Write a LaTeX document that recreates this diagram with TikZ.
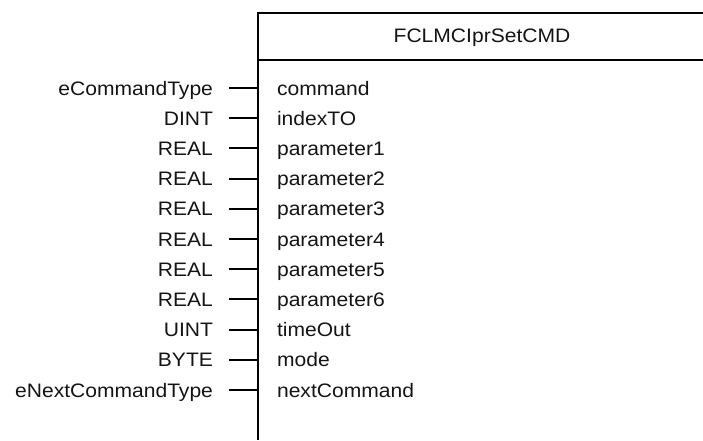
\documentclass[tikz,border=0pt]{standalone}
\usepackage{fontspec}
\setmainfont{Liberation Sans}[FakeStretch=1.08]
\begin{document}
\begin{tikzpicture}[x=1pt, y=-1pt, line width=2.1pt,
  lbl/.style={font=\fontsize{19.5}{22}\selectfont, inner sep=0pt, text=black!92}]
  \useasboundingbox (0,0) rectangle (703,440);
  % block outline (open to the right and bottom)
  \coordinate (tl) at (258,13);
  \coordinate (tr) at (703,13);
  \coordinate (hl) at (258,60);
  \coordinate (hr) at (703,60);
  \coordinate (bl) at (258,440);
  \draw (tr) -- (tl) -- (bl);
  \draw (hl) -- (hr);
  \node[lbl, anchor=base] (title) at (482,42) {FCLMCIprSetCMD};
  % input pins: data type on the left, pin name inside the block
  \foreach \t/\p [count=\i from 0] in {
      eCommandType/command, DINT/indexTO, REAL/parameter1, REAL/parameter2,
      REAL/parameter3, REAL/parameter4, REAL/parameter5, REAL/parameter6,
      UINT/timeOut, BYTE/mode, eNextCommandType/nextCommand} {
    \pgfmathsetmacro\yy{88+30.2*\i}
    \coordinate (pin\i) at (258,\yy);
    \coordinate (stub\i) at (229,\yy);
    \draw (stub\i) -- (pin\i);
    \node[lbl, anchor=base east] (type\i) at (214,\yy+7) {\t};
    \node[lbl, anchor=base west] (name\i) at (276,\yy+7) {\p};
  }
\end{tikzpicture}
\end{document}
